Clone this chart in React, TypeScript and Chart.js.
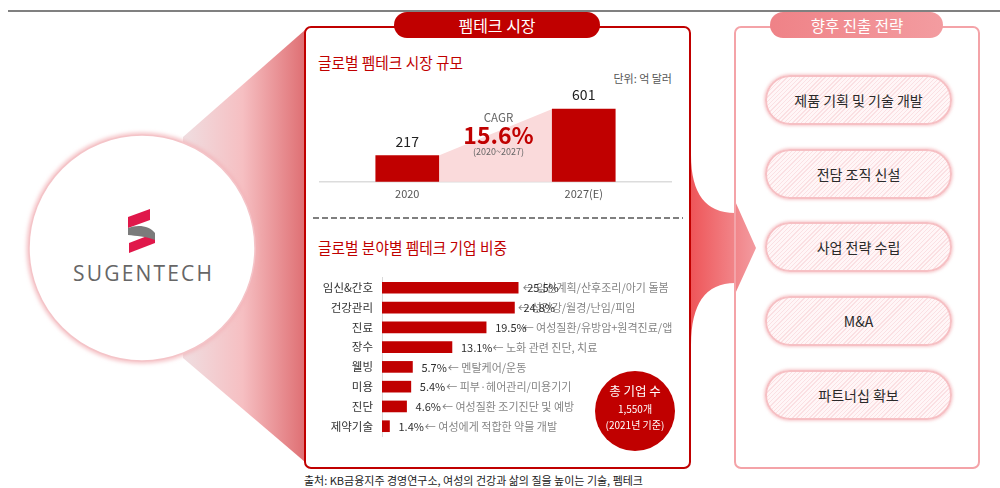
import React, { useEffect, useRef } from 'react';
import { Chart, registerables } from 'chart.js';

Chart.register(...registerables);

// ---------- data ----------
const MARKET_YEARS = ['2020', '2027(E)'];
const MARKET_VALUES = [217, 601];
const MARKET_UNIT = '단위: 억 달러';
const CAGR_VALUE = '15.6%';
const CAGR_PERIOD = '(2020~2027)';

const SECTORS = ['임신&간호', '건강관리', '진료', '장수', '웰빙', '미용', '진단', '제약기술'];
const SECTOR_SHARES = [25.5, 24.8, 19.5, 13.1, 5.7, 5.4, 4.6, 1.4];
const SECTOR_NOTES = [
  '임신계획/산후조리/아기 돌봄',
  '성건강/월경/난임/피임',
  '여성질환/유방암+원격진료/앱',
  '노화 관련 진단, 치료',
  '멘탈케어/운동',
  '피부·헤어관리/미용기기',
  '여성질환 조기진단 및 예방',
  '여성에게 적합한 약물 개발',
];
const STRATEGIES = ['제품 기획 및 기술 개발', '전담 조직 신설', '사업 전략 수립', 'M&A', '파트너십 확보'];

// label layout tweak: note start relative to end of value label
const NOTE_SHIFT = [-36, -37, -4, 0, 1, 1, 1, 1];

const FONT = '"Noto Sans CJK KR", "Noto Sans", sans-serif';
const RED = '#c00000';

Chart.defaults.font.family = FONT;

const marketPlugin = {
  id: 'marketDeco',
  beforeDatasetsDraw(chart: any) {
    const meta = chart.getDatasetMeta(0);
    const a = meta.data[0];
    const b = meta.data[1];
    const base = chart.scales.y.getPixelForValue(0);
    const ctx = chart.ctx;
    ctx.save();
    ctx.fillStyle = '#fadadb';
    ctx.beginPath();
    ctx.moveTo(a.x + a.width / 2, a.y);
    ctx.lineTo(b.x - b.width / 2, b.y);
    ctx.lineTo(b.x - b.width / 2, base);
    ctx.lineTo(a.x + a.width / 2, base);
    ctx.closePath();
    ctx.fill();
    ctx.restore();
  },
  afterDatasetsDraw(chart: any) {
    const meta = chart.getDatasetMeta(0);
    const ctx = chart.ctx;
    const top = chart.chartArea.top;
    ctx.save();
    ctx.textAlign = 'center';
    ctx.textBaseline = 'middle';
    ctx.fillStyle = '#222';
    ctx.font = `14px ${FONT}`;
    meta.data.forEach((bar: any, i: number) => {
      ctx.fillText(String(MARKET_VALUES[i]), bar.x, bar.y - 14);
    });
    const a = meta.data[0];
    const b = meta.data[1];
    const mx = (a.x + b.x) / 2 + 3;
    ctx.fillStyle = '#666';
    ctx.font = `11.5px ${FONT}`;
    ctx.fillText('CAGR', mx, top + 33);
    ctx.fillStyle = RED;
    ctx.font = `bold 23px ${FONT}`;
    ctx.fillText(CAGR_VALUE, mx, top + 50);
    ctx.fillStyle = '#666';
    ctx.font = `9px ${FONT}`;
    ctx.fillText(CAGR_PERIOD, mx, top + 67);
    ctx.restore();
  },
};

const sectorPlugin = {
  id: 'sectorLabels',
  afterDatasetsDraw(chart: any) {
    const meta = chart.getDatasetMeta(0);
    const ctx = chart.ctx;
    ctx.save();
    ctx.textBaseline = 'middle';
    ctx.textAlign = 'left';
    meta.data.forEach((bar: any, i: number) => {
      const vx = bar.x + 9;
      const label = `${SECTOR_SHARES[i]}%`;
      ctx.font = `11px ${FONT}`;
      const w = ctx.measureText(label).width;
      ctx.fillStyle = '#858585';
      ctx.fillText('← ' + SECTOR_NOTES[i], vx + w + NOTE_SHIFT[i], bar.y + 0.5);
      ctx.fillStyle = '#2e2e2e';
      ctx.fillText(label, vx, bar.y + 0.5);
    });
    ctx.restore();
  },
};

function MarketChart() {
  const ref = useRef<HTMLCanvasElement>(null);
  useEffect(() => {
    const chart = new Chart(ref.current as HTMLCanvasElement, {
      type: 'bar',
      data: {
        labels: MARKET_YEARS,
        datasets: [{ data: MARKET_VALUES, backgroundColor: RED, barThickness: 63 }],
      },
      options: {
        responsive: false,
        animation: false,
        layout: { padding: { top: 6, bottom: 0, left: 0, right: 0 } },
        plugins: { legend: { display: false }, tooltip: { enabled: false } },
        scales: {
          y: { display: false, min: 0, max: 800 },
          x: {
            grid: { display: false, drawTicks: false },
            border: { display: true, color: '#dcdcdc', width: 1.5 },
            ticks: { color: '#555', font: { size: 11, family: FONT }, padding: 5 },
          },
        },
      },
      plugins: [marketPlugin],
    });
    return () => chart.destroy();
  }, []);
  return (
    <canvas
      ref={ref}
      width={353}
      height={126}
      style={{ position: 'absolute', left: 319, top: 79, width: 353, height: 126 }}
    />
  );
}

function SectorChart() {
  const ref = useRef<HTMLCanvasElement>(null);
  useEffect(() => {
    const chart = new Chart(ref.current as HTMLCanvasElement, {
      type: 'bar',
      data: {
        labels: SECTORS,
        datasets: [{ data: SECTOR_SHARES, backgroundColor: RED, barThickness: 11 }],
      },
      options: {
        indexAxis: 'y',
        responsive: false,
        animation: false,
        layout: { padding: { top: 5, bottom: 4.4, left: 0, right: 36 } },
        plugins: { legend: { display: false }, tooltip: { enabled: false } },
        scales: {
          x: { display: false, min: 0, max: 50 },
          y: {
            grid: { display: false, drawTicks: false },
            border: { display: true, color: '#d9d9d9', width: 1 },
            ticks: { color: '#333', font: { size: 11.5, family: FONT }, padding: 9 },
            afterFit: (scale: any) => {
              scale.width = 77;
            },
          },
        },
      },
      plugins: [sectorPlugin],
    });
    return () => chart.destroy();
  }, []);
  return (
    <canvas
      ref={ref}
      width={380}
      height={190}
      style={{ position: 'absolute', left: 305, top: 262, width: 380, height: 190 }}
    />
  );
}

const PILL_CENTERS = [100, 173.5, 247, 321, 395];

export default function App() {
  return (
    <div
      style={{
        position: 'absolute',
        left: 0,
        top: 0,
        width: 1000,
        height: 488,
        overflow: 'hidden',
        background: '#fff',
        fontFamily: FONT,
      }}
    >
      <svg width={1000} height={488} style={{ position: 'absolute', left: 0, top: 0 }}>
        <defs>
          <linearGradient id="funnel" gradientUnits="userSpaceOnUse" x1="180" y1="0" x2="305" y2="0">
            <stop offset="0" stopColor="#efdfe2" />
            <stop offset="0.5" stopColor="#f6bfc2" />
            <stop offset="1" stopColor="#df6f73" />
          </linearGradient>
          <linearGradient id="arrow" gradientUnits="userSpaceOnUse" x1="690" y1="0" x2="756" y2="0">
            <stop offset="0" stopColor="#ee5558" />
            <stop offset="1" stopColor="#f39ba0" />
          </linearGradient>
          <linearGradient id="pinkPill" gradientUnits="userSpaceOnUse" x1="770" y1="0" x2="943" y2="0">
            <stop offset="0" stopColor="#ef8287" />
            <stop offset="1" stopColor="#f39ca0" />
          </linearGradient>
          <filter id="blur" x="-20%" y="-20%" width="140%" height="140%">
            <feGaussianBlur stdDeviation="2" />
          </filter>
        </defs>
        {/* top rule */}
        <rect x={8} y={10} width={992} height={2} fill="#808080" />
        {/* funnel */}
        <polygon points="183,137 305,30 305,462 183,358" fill="url(#funnel)" />
        {/* company circle */}
        <circle cx={142} cy={248} r={113} fill="none" stroke="#f3b3b8" strokeWidth={4} filter="url(#blur)" />
        <circle cx={142} cy={248} r={113} fill="#fff" stroke="#f4c4c8" strokeWidth={1.5} />
        {/* logo */}
        <polygon points="128,217 150,209 150,220 128,228" fill="#e0184a" />
        <polygon points="129,243 155,233 155,243 129,253" fill="#e0184a" />
        <path d="M128,228 C138,224 150,226 155,233 L155,240 C146,236 136,236 128,235 Z" fill="#7b7b7b" />
        <text
          x={142.5}
          y={273}
          textAnchor="middle"
          dominantBaseline="central"
          fontFamily='"Open Sans", sans-serif'
          fontSize={21}
          fill="#666"
          textLength={139}
          lengthAdjust="spacing"
        >
          SUGENTECH
        </text>
        {/* middle panel */}
        <rect x={305} y={27} width={385} height={441} rx={6} fill="#fff" stroke={RED} strokeWidth={2} />
        {/* right panel fill */}
        <rect x={735} y={27} width={244} height={441} rx={6} fill="#fff" />
        {/* arrow */}
        <path
          d="M691,155 Q691,213 735,213 L735,201 L756,248 L735,294 L735,283 Q691,283 691,345 Z"
          fill="url(#arrow)"
        />
        <rect x={735} y={27} width={244} height={441} rx={6} fill="none" stroke="#f4a3a8" strokeWidth={2} />
        {/* title pills */}
        <rect x={394} y={12} width={206} height={26} rx={13} fill={RED} />
        <text x={497} y={25} textAnchor="middle" dominantBaseline="central" fontSize={16} fill="#fff">
          펨테크 시장
        </text>
        <rect x={770} y={12} width={173} height={26} rx={13} fill="url(#pinkPill)" />
        <text x={857} y={25} textAnchor="middle" dominantBaseline="central" fontSize={15.5} fill="#fff">
          향후 진출 전략
        </text>
        {/* subtitles */}
        <text x={318} y={62} dominantBaseline="central" fontSize={15.5} fill={RED} textLength={145} lengthAdjust="spacingAndGlyphs">
          글로벌 펨테크 시장 규모
        </text>
        <text x={672} y={78} textAnchor="end" dominantBaseline="central" fontSize={11} fill="#555">
          {MARKET_UNIT}
        </text>
        <line x1={313} y1={218} x2={683} y2={218} stroke="#555" strokeWidth={1.5} strokeDasharray="6 3" />
        <text x={318} y={247} dominantBaseline="central" fontSize={15.5} fill={RED} textLength={189} lengthAdjust="spacingAndGlyphs">
          글로벌 분야별 펨테크 기업 비중
        </text>
        {/* source */}
        <text x={304} y={480} dominantBaseline="central" fontSize={11} fill="#222" textLength={339} lengthAdjust="spacingAndGlyphs">
          출처: KB금융지주 경영연구소, 여성의 건강과 삶의 질을 높이는 기술, 펨테크
        </text>
      </svg>

      {STRATEGIES.map((s, i) => (
        <div
          key={s}
          style={{
            position: 'absolute',
            left: 765,
            top: PILL_CENTERS[i] - 25,
            width: 187,
            height: 50,
            boxSizing: 'border-box',
            borderRadius: 25,
            border: '2px solid #f6c0c4',
            boxShadow: '0 0 3px 1px rgba(240,160,165,0.55)',
            background: 'repeating-linear-gradient(135deg, #fff6f7 0px, #fff6f7 2px, #fbe0e3 2px, #fbe0e3 3px)',
            display: 'flex',
            alignItems: 'center',
            justifyContent: 'center',
            fontSize: 14,
            color: '#2a2a2a',
            fontWeight: 400,
          }}
        >
          {s}
        </div>
      ))}

      <MarketChart />
      <SectorChart />

      <div
        style={{
          position: 'absolute',
          left: 595,
          top: 371,
          width: 80,
          height: 80,
          borderRadius: '50%',
          background: RED,
          color: '#fff',
          textAlign: 'center',
          fontSize: 10,
          lineHeight: 1,
        }}
      >
        <div style={{ position: 'absolute', left: 0, width: 80, top: 14, fontSize: 12.5 }}>총 기업 수</div>
        <div style={{ position: 'absolute', left: 0, width: 80, top: 33 }}>1,550개</div>
        <div style={{ position: 'absolute', left: 0, width: 80, top: 49 }}>(2021년 기준)</div>
      </div>
    </div>
  );
}
